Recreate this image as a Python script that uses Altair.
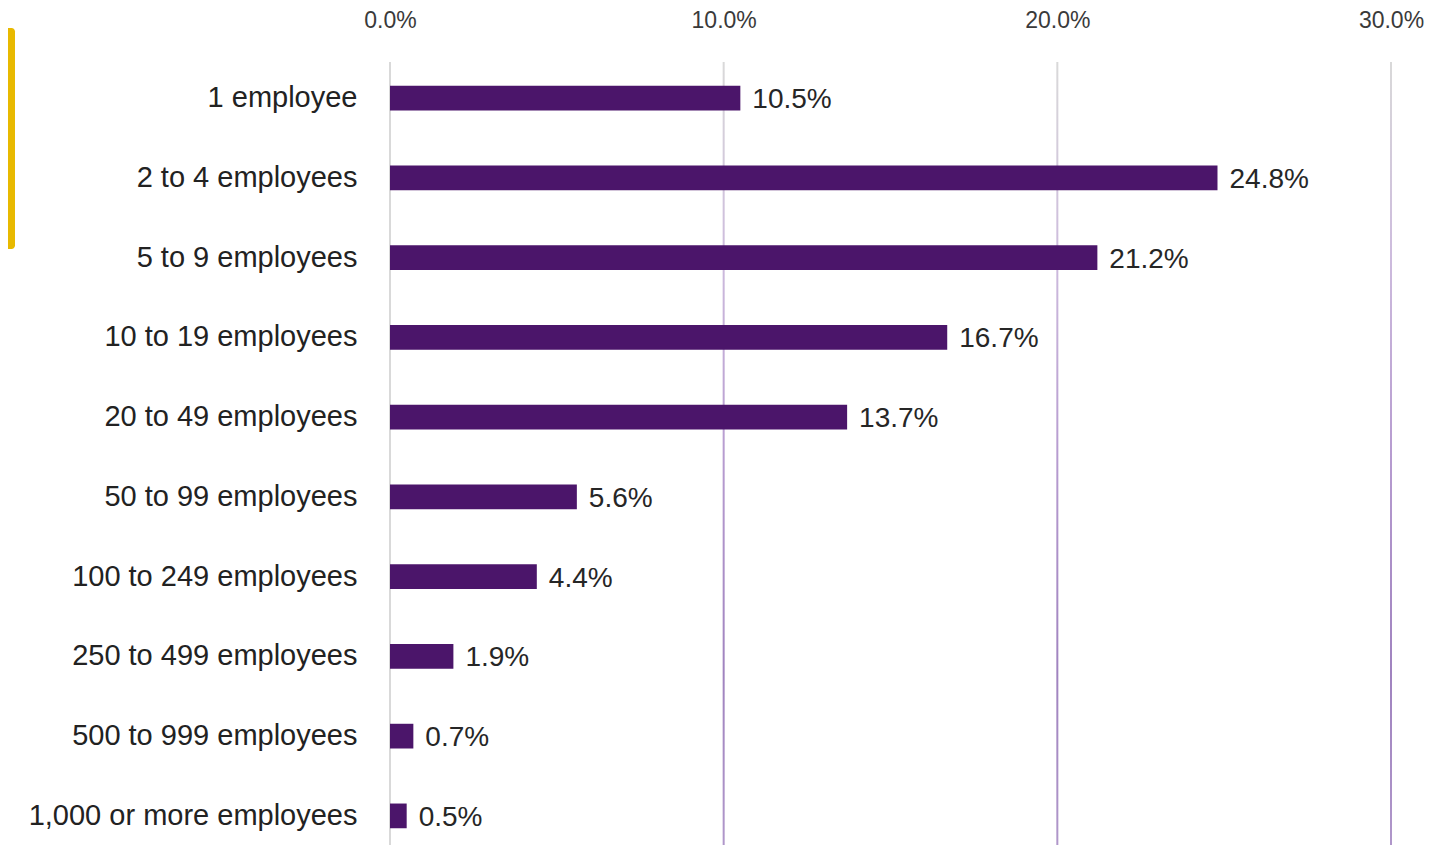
import altair as alt
import pandas as pd

categories = [
    "1 employee", "2 to 4 employees", "5 to 9 employees", "10 to 19 employees",
    "20 to 49 employees", "50 to 99 employees", "100 to 249 employees",
    "250 to 499 employees", "500 to 999 employees", "1,000 or more employees",
]
shares = [10.5, 24.8, 21.2, 16.7, 13.7, 5.6, 4.4, 1.9, 0.7, 0.5]
grid_values = [10, 20, 30]
zero_line = [0]
tick_values = [0, 10, 20, 30]

W, H = 1001, 776
FONT = "Liberation Sans"

df = pd.DataFrame({"cat": categories, "share": shares})
grid_df = pd.DataFrame({"v": grid_values})
zero_df = pd.DataFrame({"v": zero_line})

xscale = alt.Scale(domain=[0, 30], nice=False, zero=True, padding=0)
xaxis = alt.Axis(
    orient="top", values=tick_values, grid=False, domain=False,
    ticks=False, tickSize=0, labelPadding=49, labelBaseline="middle",
    labelFlush=False, labelOverlap=False,
    labelExpr="format(datum.value, '.1f') + '%'",
    labelFont=FONT, labelFontSize=23, labelColor="#3a3a3a",
)

grad = alt.LinearGradient(
    gradient="linear", x1=0, x2=0, y1=0, y2=1,
    stops=[
        alt.GradientStop(offset=0, color="#D9D9D9"),
        alt.GradientStop(offset=0.25, color="#CDBBDD"),
        alt.GradientStop(offset=0.5, color="#B79CD0"),
        alt.GradientStop(offset=0.78, color="#A083BF"),
        alt.GradientStop(offset=1, color="#B097CA"),
    ],
)

grid = alt.Chart(grid_df).mark_bar(width=2, fill=grad).encode(
    x=alt.X("v:Q", scale=xscale, axis=xaxis, title=None),
    y=alt.value(-7),
    y2=alt.value(H),
)

zero = alt.Chart(zero_df).mark_bar(width=2, color="#D9D9D9").encode(
    x=alt.X("v:Q", scale=xscale, axis=xaxis, title=None),
    y=alt.value(-7),
    y2=alt.value(H),
)

yenc = alt.Y(
    "cat:N", sort=categories, title=None,
    scale=alt.Scale(paddingInner=0.69, paddingOuter=0.21),
    axis=alt.Axis(
        domain=False, ticks=False, tickSize=0, labelPadding=33,
        labelFont=FONT, labelFontSize=29, labelColor="#222222", labelLimit=400,
    ),
)

bars = alt.Chart(df).mark_bar(color="#4B156A").encode(
    x=alt.X("share:Q", scale=xscale, title=None, axis=xaxis),
    y=yenc,
)

labels = alt.Chart(df).transform_calculate(
    lbl="format(datum.share, '.1f') + '%'"
).mark_text(
    align="left", baseline="middle", dx=12, dy=2, font=FONT, fontSize=28, color="#262626"
).encode(
    x=alt.X("share:Q", scale=xscale, axis=xaxis, title=None),
    y=alt.Y("cat:N", sort=categories),
    text="lbl:N",
)

deco = alt.Chart(zero_df).mark_rect(
    color="#E8B900", cornerRadiusTopRight=7, cornerRadiusBottomRight=7
).encode(
    x=alt.value(-382), x2=alt.value(-375), y=alt.value(-41), y2=alt.value(180),
)

chart = alt.layer(zero, grid, bars, labels, deco).properties(
    width=W, height=H,
    background="white",
    autosize=alt.AutoSizeParams(type="none"),
    padding={"left": 382, "top": 61, "right": 40, "bottom": 0},
).configure_view(stroke=None)

chart.save("out.html", embed_options={"renderer": "svg", "actions": False})
